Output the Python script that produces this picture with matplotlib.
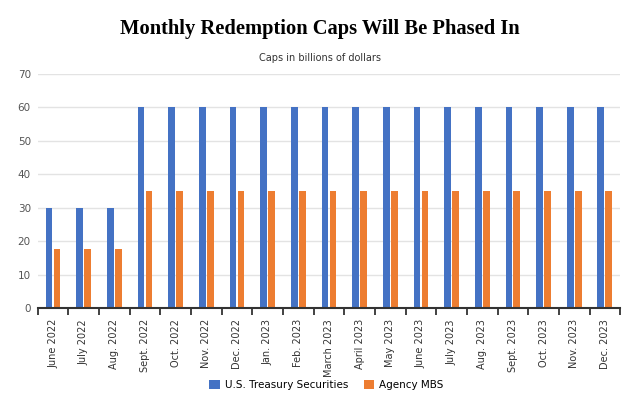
import numpy as np
import matplotlib
matplotlib.use('Agg')
import matplotlib.pyplot as plt

months = ['June 2022', 'July 2022', 'Aug. 2022', 'Sept. 2022', 'Oct. 2022', 'Nov. 2022',
          'Dec. 2022', 'Jan. 2023', 'Feb. 2023', 'March 2023', 'April 2023', 'May 2023',
          'June 2023', 'July 2023', 'Aug. 2023', 'Sept. 2023', 'Oct. 2023', 'Nov. 2023',
          'Dec. 2023']
treasury = [30, 30, 30, 60, 60, 60, 60, 60, 60, 60, 60, 60, 60, 60, 60, 60, 60, 60, 60]
mbs = [17.5, 17.5, 17.5, 35, 35, 35, 35, 35, 35, 35, 35, 35, 35, 35, 35, 35, 35, 35, 35]

blue = '#4472C4'
orange = '#ED7D31'

fig = plt.figure(figsize=(6.4, 4.05), dpi=100)
ax = fig.add_axes([0.059, 0.2395, 0.91, 0.578])

x = np.arange(len(months))
w = 0.22
ax.bar(x - 0.13, treasury, width=w, color=blue, label='U.S. Treasury Securities')
ax.bar(x + 0.13, mbs, width=w, color=orange, label='Agency MBS')

ax.set_xlim(-0.5, len(months) - 0.5)
ax.set_ylim(0, 70)
ax.set_yticks(range(0, 71, 10))
ax.yaxis.grid(True, color='#e3e3e3', linewidth=1)
ax.set_axisbelow(True)
for s in ['top', 'right', 'left']:
    ax.spines[s].set_visible(False)
ax.spines['bottom'].set_color('#333333')
ax.spines['bottom'].set_linewidth(1.5)

ax.set_xticks(x)
ax.set_xticklabels(months, rotation=90, fontsize=7, color='#333333')
ax.tick_params(axis='x', length=0, pad=8)
ax.set_xticks(np.arange(-0.5, len(months)), minor=True)
ax.tick_params(axis='x', which='minor', length=5, width=1.3, color='#333333', direction='out')
ax.tick_params(axis='y', length=0, labelsize=7.5, labelcolor='#555555', pad=5)

fig.text(0.5, 0.928, 'Monthly Redemption Caps Will Be Phased In', ha='center', va='center',
         fontsize=14.8, fontweight='bold', family='Liberation Serif')
fig.text(0.5, 0.858, 'Caps in billions of dollars', ha='center', va='center',
         fontsize=7, color='#333333')

fig.legend(loc='center', bbox_to_anchor=(0.51, 0.05), ncol=2, frameon=False,
           fontsize=7.5, handlelength=1.0, handleheight=1.0, columnspacing=1.5,
           handletextpad=0.5)

fig.savefig('out.png', dpi=100)
